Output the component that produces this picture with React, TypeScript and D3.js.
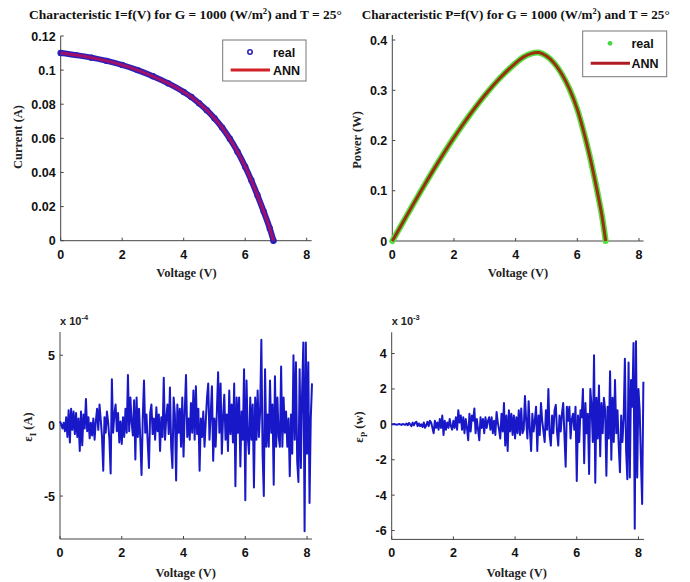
import React from 'react';
import * as d3 from 'd3';

// I-V / P-V characteristic
const curveV = [0, 0.5, 1, 1.5, 2, 2.5, 3, 3.5, 4, 4.25, 4.5, 4.75, 5, 5.25, 5.5, 5.75, 6, 6.2, 6.4, 6.6, 6.8, 6.92];
const curveI = [0.110, 0.1088, 0.1073, 0.1054, 0.1030, 0.1000, 0.0964, 0.0922, 0.0872, 0.0842, 0.0806, 0.0765, 0.0718, 0.0663, 0.0598, 0.0522, 0.0434, 0.0354, 0.0266, 0.0172, 0.0072, 0.0];
const curveP = [0, 0.054, 0.107, 0.158, 0.206, 0.250, 0.290, 0.325, 0.354, 0.366, 0.373, 0.375, 0.368, 0.354, 0.332, 0.302, 0.262, 0.219, 0.170, 0.113, 0.050, 0];

// error series (x 1e-4 A and x 1e-3 W), sampled every 0.04 V
const errI = [
  0.3, 0.1, -0.2, 0.2, -0.4, 0.6, -0.8, 1.1, -1.2, 1.2,
  -0.3, 1.0, -0.6, 0.9, -0.8, 0.5, -1.8, 1.0, -1.4, 0.8,
  -0.2, 1.9, -0.4, 0.6, -0.9, 0.2, -0.7, 0.5, -1.0, 0.3,
  1.2, -0.3, 1.5, 0.4, -0.8, -3.2, 0.6, -0.5, 1.0, 0.2,
  -1.0, -3.4, 3.3, -0.5, 0.8, 1.5, -0.4, 0.9, -1.2, 0.3,
  -1.3, 0.6, -0.8, 1.2, -0.5, 3.6, -0.4, 2.0, 0.2, -0.7,
  1.8, -2.4, 2.0, -0.8, 1.2, -1.0, -3.5, 0.5, 3.2, -0.5,
  0.8, -1.2, -3.0, 0.9, 1.5, -0.6, 0.5, -1.0, 1.3, -0.4,
  0.8, -1.8, 0.6, -0.8, 3.4, -1.0, 0.5, 1.5, -0.6, 2.7,
  -1.5, -3.0, 2.0, 0.8, -3.9, 1.5, -0.5, 1.2, -1.5, 2.0,
  -2.2, 1.0, 3.6, -0.8, 0.5, -1.0, 1.6, -0.5, 2.5, -1.0,
  2.8, -0.6, 1.2, -3.2, 0.5, -0.8, 1.0, -1.5, 0.3, 2.0,
  3.0, -1.0, 0.8, 2.8, -2.5, 0.5, -1.5, 1.0, 3.8, -0.5,
  3.0, -2.0, 0.6, 2.2, -1.0, 0.8, -1.8, 2.5, -0.6, 1.5,
  -1.2, 3.0, -4.3, 2.0, -0.5, 2.0, -2.9, 1.0, -1.0, 4.0,
  -5.3, 3.2, -0.8, -2.0, 2.0, -1.0, 1.5, -4.4, 2.0, -1.0,
  2.5, -0.8, 1.0, 6.1, -2.0, -5.0, 4.0, -1.5, 0.8, -1.5,
  3.2, -0.5, 1.5, -4.2, 3.5, -1.5, 2.0, -0.8, -1.5, 4.2,
  -1.5, 2.0, -0.5, 1.0, -1.5, 0.5, -3.6, 0.8, -2.0, 5.0,
  -1.0, 4.5, -2.5, -4.0, 4.0, -3.0, 2.5, 5.9, -7.5, 5.9,
  -2.0, 4.5, -5.5, 0.5, 3.0,
];
const errP = [
  0, 0, 0.02, 0, -0.02, 0, 0.02, 0, -0.03, 0.02,
  0, -0.03, 0.05, -0.05, 0.08, 0, -0.1, 0.1, -0.05, 0.1,
  0.15, -0.1, 0.05, -0.1, 0, -0.15, 0.1, -0.2, -0.05, 0.15,
  -0.1, 0.2, 0.1, -0.2, -0.5, 0.2, -0.2, 0.1, -0.3, 0.3,
  -0.2, 0.5, -0.6, 0.2, -0.3, 0.1, -0.2, 0.3, -0.1, -0.3,
  0.2, -0.2, 0.4, -0.3, 0.8, 0.1, 0.5, -0.3, 0.4, -0.5,
  0.3, -0.2, -0.9, 0.6, -0.4, 0.5, 0.2, 0.9, -0.5, 0.3,
  -0.3, -0.9, 0.4, -0.2, 0.3, -0.5, 0.4, -0.2, 0.2, 0.4,
  -0.3, 0.4, -0.5, 0.2, -0.6, 0.7, 0.1, -0.3, -0.8, 0.6,
  -0.4, 1.2, -1.2, 0.5, -1.5, 0.8, -0.4, 0.6, -0.6, 0.5,
  -0.8, 0.4, -0.5, 0.8, -0.6, 0.9, -0.5, -0.3, 1.6, 0.2,
  -0.8, 1.3, -0.3, -1.5, 0.6, -0.4, 0.2, 1.0, -1.5, 0.5,
  -0.6, 1.2, 0.2, -0.4, -1.0, 0.8, -0.3, 2.0, -0.6, -1.2,
  0.5, -0.5, 0.8, 1.1, -0.4, -1.2, 0.5, -0.4, 0.6, 1.2,
  -0.6, -2.4, 1.0, 0.2, 1.0, -0.8, 0.3, 0.6, -0.3, 1.0,
  -3.2, 0.5, -1.0, 0.8, 0.4, 2.0, -2.2, 1.2, -0.5, 0.6,
  -2.8, 2.0, 1.0, -1.0, 3.9, -3.3, 1.5, -0.8, 2.2, -1.8,
  1.2, -0.5, 1.5, 0.8, -2.9, 1.0, -0.8, 3.0, -2.0, 1.5,
  -1.0, 2.5, -0.5, 0.8, -1.2, -2.7, 0.5, -1.0, 0.3, 3.7,
  -1.5, -3.1, 3.5, -3.0, 2.5, 1.0, 4.6, -5.9, 4.7, -3.0,
  2.0, 0.8, -2.0, -4.5, 2.4,
];
const errV = d3.range(errI.length).map((i) => +(i * 0.04).toFixed(2));

const xTicks = [0, 2, 4, 6, 8];
const yTicksI = [0, 0.02, 0.04, 0.06, 0.08, 0.1, 0.12];
const yTicksP = [0, 0.1, 0.2, 0.3, 0.4];
const yTicksEI = [-5, 0, 5];
const yTicksEP = [-6, -4, -2, 0, 2, 4];

const SANS = "'Liberation Sans', Arial, sans-serif";
const SERIF = "'Liberation Serif', 'Times New Roman', serif";
const AXIS = '#444';

type AxProps = {
  x: d3.ScaleLinear<number, number>;
  y: d3.ScaleLinear<number, number>;
  yTicks: number[];
  yFmt: (v: number) => string;
};

function Axes({ x, y, yTicks, yFmt }: AxProps) {
  const [x0, x1] = x.range();
  const [yb, yt] = y.range();
  return (
    <g>
      <line x1={x0} x2={x1} y1={yb} y2={yb} stroke={AXIS} strokeWidth={1} />
      <line x1={x0} x2={x0} y1={yb} y2={yt} stroke={AXIS} strokeWidth={1} />
      {xTicks.map((t) => (
        <g key={'x' + t}>
          <line x1={x(t)} x2={x(t)} y1={yb} y2={yb - 3} stroke={AXIS} />
          <text x={x(t)} y={yb + 18} textAnchor="middle" fontFamily={SANS} fontWeight="bold" fontSize={12.5} fill="#111">
            {t}
          </text>
        </g>
      ))}
      {yTicks.map((t) => (
        <g key={'y' + t}>
          <line x1={x0} x2={x0 + 3} y1={y(t)} y2={y(t)} stroke={AXIS} />
          <text x={x0 - 5} y={y(t) + 4.5} textAnchor="end" fontFamily={SANS} fontWeight="bold" fontSize={12.5} fill="#111">
            {yFmt(t)}
          </text>
        </g>
      ))}
    </g>
  );
}

function Label({ x, y, rotate, children }: { x: number; y: number; rotate?: boolean; children: React.ReactNode }) {
  return (
    <text
      x={0}
      y={0}
      transform={`translate(${x},${y})${rotate ? ' rotate(-90)' : ''}`}
      textAnchor="middle"
      fontFamily={SERIF}
      fontWeight="bold"
      fontSize={12.5}
      fill="#222"
    >
      {children}
    </text>
  );
}

export default function App() {
  const fmt = (v: number) => (v === 0 ? '0' : String(+v.toFixed(2)));

  // Top-left: I = f(V)
  const x1 = d3.scaleLinear().domain([0, 8.16]).range([60.7, 311.6]);
  const y1 = d3.scaleLinear().domain([0, 0.12]).range([240.7, 36]);
  // Top-right: P = f(V)
  const x2 = d3.scaleLinear().domain([0, 8.15]).range([392.3, 643.6]);
  const y2 = d3.scaleLinear().domain([0, 0.41]).range([241, 35]);
  // Bottom-left
  const x3 = d3.scaleLinear().domain([0, 8.16]).range([60, 312]);
  const y3 = d3.scaleLinear().domain([-8.05, 6.65]).range([539, 332]);
  // Bottom-right
  const x4 = d3.scaleLinear().domain([0, 8.18]).range([391.7, 644]);
  const y4 = d3.scaleLinear().domain([-6.5, 5.2]).range([539.4, 332.3]);

  const ivPts = curveV.map((v, i) => [v, curveI[i]] as [number, number]);
  const pvPts = curveV.map((v, i) => [v, curveP[i]] as [number, number]);

  const lineIV = d3.line<[number, number]>().x((d) => x1(d[0])).y((d) => y1(d[1])).curve(d3.curveMonotoneX);
  const linePV = d3.line<[number, number]>().x((d) => x2(d[0])).y((d) => y2(d[1])).curve(d3.curveCatmullRom);
  const lineEI = d3.line<number>().x((_, i) => x3(errV[i])).y((d) => y3(d));
  const lineEP = d3.line<number>().x((_, i) => x4(errV[i])).y((d) => y4(d));

  return (
    <svg width={690} height={582} style={{ display: 'block', position: 'absolute', left: 0, top: 0, background: '#fff' }}>
      <rect x={0} y={0} width={690} height={582} fill="#fff" />

      {/* ===== Top-left ===== */}
      <text x={29} y={19} fontFamily={SERIF} fontWeight="bold" fontSize={12.5} fill="#111" textLength={313} lengthAdjust="spacingAndGlyphs">
        Characteristic I=f(V) for  G = 1000 (W/m<tspan dy={-5} fontSize={8}>2</tspan><tspan dy={5}>) and T = 25°</tspan>
      </text>
      <Axes x={x1} y={y1} yTicks={yTicksI} yFmt={fmt} />
      <path d={lineIV(ivPts) || ''} fill="none" stroke="#2a22b8" strokeWidth={6} strokeLinecap="round" />
      {ivPts.map((d, i) => (
        <circle key={i} cx={x1(d[0])} cy={y1(d[1])} r={2.6} fill="none" stroke="#2a22b8" strokeWidth={1.2} />
      ))}
      <path d={lineIV(ivPts) || ''} fill="none" stroke="#a0106a" strokeWidth={3} />
      <Label x={186.5} y={277}>Voltage (V)</Label>
      <Label x={22} y={137} rotate>Current (A)</Label>
      {/* legend */}
      <rect x={222.7} y={40} width={83.3} height={41} fill="#fff" stroke="#777" strokeWidth={1} />
      <circle cx={250} cy={52} r={2.2} fill="none" stroke="#2a22b8" strokeWidth={1.6} />
      <text x={273} y={56.5} fontFamily={SANS} fontWeight="bold" fontSize={12.5} fill="#111">real</text>
      <line x1={230.7} x2={270} y1={70} y2={70} stroke="#d02028" strokeWidth={3} />
      <text x={273} y={74.5} fontFamily={SANS} fontWeight="bold" fontSize={12.5} fill="#111">ANN</text>

      {/* ===== Top-right ===== */}
      <text x={361.7} y={19} fontFamily={SERIF} fontWeight="bold" fontSize={12.5} fill="#111" textLength={308} lengthAdjust="spacingAndGlyphs">
        Characteristic P=f(V) for G = 1000 (W/m<tspan dy={-5} fontSize={8}>2</tspan><tspan dy={5}>) and T = 25°</tspan>
      </text>
      <Axes x={x2} y={y2} yTicks={yTicksP} yFmt={fmt} />
      <path d={linePV(pvPts) || ''} fill="none" stroke="#55e040" strokeWidth={6} strokeLinecap="round" />
      {pvPts.map((d, i) => (
        <circle key={i} cx={x2(d[0])} cy={y2(d[1])} r={2.6} fill="#55e040" stroke="none" />
      ))}
      <path d={linePV(pvPts) || ''} fill="none" stroke="#9a3010" strokeWidth={3} />
      <Label x={518} y={277}>Voltage (V)</Label>
      <Label x={361} y={140} rotate>Power (W)</Label>
      {/* legend */}
      <rect x={582.7} y={31} width={84} height={45.7} fill="#fff" stroke="#777" strokeWidth={1} />
      <circle cx={610} cy={43.3} r={2.4} fill="#45d840" stroke="none" />
      <text x={631.5} y={48} fontFamily={SANS} fontWeight="bold" fontSize={12.5} fill="#111">real</text>
      <line x1={590.7} x2={630} y1={63.3} y2={63.3} stroke="#b01c24" strokeWidth={3} />
      <text x={631.5} y={68} fontFamily={SANS} fontWeight="bold" fontSize={12.5} fill="#111">ANN</text>

      {/* ===== Bottom-left ===== */}
      <Axes x={x3} y={y3} yTicks={yTicksEI} yFmt={(v) => String(v)} />
      <path d={lineEI(errI) || ''} fill="none" stroke="#1818c8" strokeWidth={2} strokeLinejoin="round" />
      <text x={60} y={325} fontFamily={SANS} fontWeight="bold" fontSize={11} fill="#222">
        x 10<tspan dy={-5} fontSize={7.5}>-4</tspan>
      </text>
      <Label x={185.7} y={577}>Voltage (V)</Label>
      <text transform="translate(32,427) rotate(-90)" textAnchor="middle" fontFamily={SERIF} fontWeight="bold" fontSize={12.5} fill="#222">
        ε<tspan dy={4} fontSize={9}>I</tspan><tspan dy={-4}> (A)</tspan>
      </text>

      {/* ===== Bottom-right ===== */}
      <Axes x={x4} y={y4} yTicks={yTicksEP} yFmt={(v) => String(v)} />
      <path d={lineEP(errP) || ''} fill="none" stroke="#1818c8" strokeWidth={2} strokeLinejoin="round" />
      <text x={391.7} y={325} fontFamily={SANS} fontWeight="bold" fontSize={11} fill="#222">
        x 10<tspan dy={-5} fontSize={7.5}>-3</tspan>
      </text>
      <Label x={516.7} y={577}>Voltage (V)</Label>
      <text transform="translate(363,427) rotate(-90)" textAnchor="middle" fontFamily={SERIF} fontWeight="bold" fontSize={12.5} fill="#222">
        ε<tspan dy={4} fontSize={9}>P</tspan><tspan dy={-4}> (w)</tspan>
      </text>
    </svg>
  );
}
